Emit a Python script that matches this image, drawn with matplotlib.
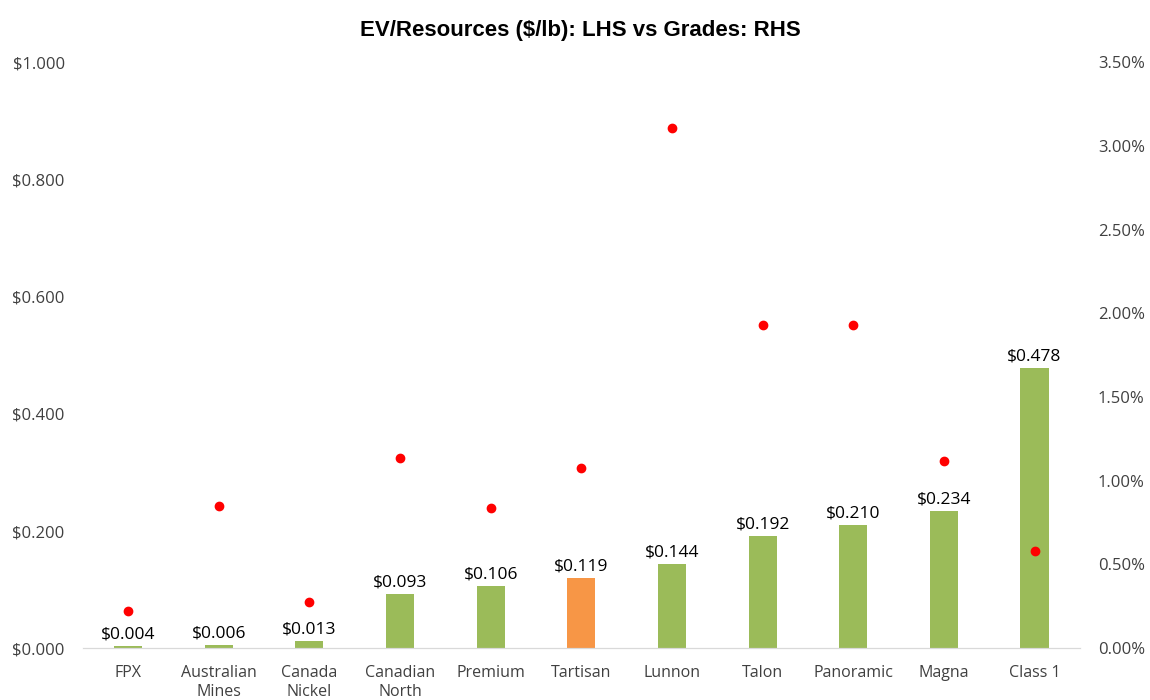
import matplotlib.pyplot as plt
from matplotlib.ticker import FuncFormatter
import numpy as np

companies = ['FPX', 'Australian\nMines', 'Canada\nNickel', 'Canadian\nNorth', 'Premium',
             'Tartisan', 'Lunnon', 'Talon', 'Panoramic', 'Magna', 'Class 1']
ev_resources = [0.004, 0.006, 0.013, 0.093, 0.106, 0.119, 0.144, 0.192, 0.210, 0.234, 0.478]
grades = [0.22, 0.85, 0.275, 1.135, 0.835, 1.075, 3.11, 1.93, 1.93, 1.12, 0.58]
highlight = 'Tartisan'

plt.rcParams['font.family'] = ['Open Sans', 'DejaVu Sans']

fig = plt.figure(figsize=(11.5, 7), dpi=100)
ax = fig.add_axes([0.072, 0.074, 0.867, 0.837])
ax2 = ax.twinx()

x = np.arange(len(companies))
colors = ['#F79646' if c == highlight else '#9BBB59' for c in companies]
bars = ax.bar(x, ev_resources, width=0.31, color=colors, zorder=2)

for xi, v in zip(x, ev_resources):
    ax.text(xi, v + 0.006, f'${v:.3f}', ha='center', va='bottom', fontsize=12.5, color='#000000')

ax2.plot(x, grades, 'o', color='#FF0000', markersize=6, zorder=3)

ax.set_xlim(-0.5, len(companies) - 0.5)
ax.set_ylim(0, 1.0)
ax.set_yticks(np.arange(0, 1.01, 0.2))
ax.yaxis.set_major_formatter(FuncFormatter(lambda v, p: f'${v:.3f}'))
ax2.set_ylim(0, 3.5)
ax2.set_yticks(np.arange(0, 3.51, 0.5))
ax2.yaxis.set_major_formatter(FuncFormatter(lambda v, p: f'{v:.2f}%'))

ax.set_xticks(x)
ax.set_xticklabels(companies, fontsize=11.5, color='#404040', linespacing=1.3)

for a in (ax, ax2):
    for s in ['top', 'left', 'right']:
        a.spines[s].set_visible(False)
    a.spines['bottom'].set_color('#D9D9D9')
    a.tick_params(length=0, labelsize=12, labelcolor='#404040')

ax.tick_params(axis='y', pad=13)
ax2.tick_params(axis='y', pad=13)
ax.tick_params(axis='x', labelsize=11.5, pad=12)

fig.suptitle('EV/Resources ($/lb): LHS vs Grades: RHS', x=0.505, y=0.972,
             fontsize=16, fontweight='bold', family='Liberation Sans')

fig.savefig('out.png', dpi=100)
